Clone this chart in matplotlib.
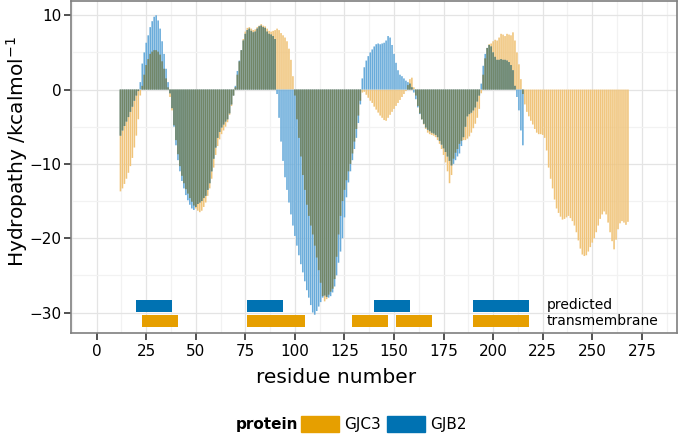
import numpy as np
import matplotlib.pyplot as plt
from matplotlib.patches import Patch

# hydropathy per residue
gjc3_first = 12
gjc3 = [
    -13.7, -13.3, -12.7, -12.0, -11.2, -10.3, -9.2, -7.8, -6.2, -4.0,
    -0.8, 0.5, 2.0, 3.3, 4.1, 4.8, 5.1, 5.3, 5.3, 5.1,
    4.7, 3.8, 2.8, 1.5, 0.3, -1.0, -2.8, -4.8, -6.8, -8.7,
    -10.3, -11.6, -12.6, -13.4, -14.0, -14.6, -15.1, -15.6, -16.0, -16.3,
    -16.5, -16.3, -15.8, -15.2, -14.3, -13.3, -12.0, -10.5, -8.8, -7.6,
    -6.7, -6.0, -5.5, -5.0, -4.4, -3.4, -2.2, -0.8, 0.3, 2.0,
    3.8, 5.3, 6.8, 7.8, 8.3, 8.4, 8.2, 8.0, 8.1, 8.4,
    8.6, 8.8, 8.6, 8.5, 8.2, 7.9, 7.8, 7.9, 8.0, 8.2,
    8.0, 7.6, 7.3, 7.0, 6.5, 5.5, 4.0, 1.8, -0.8, -4.0,
    -6.5, -9.0, -11.5, -13.5, -15.5, -17.0, -18.3, -19.5, -21.0, -22.6,
    -24.3, -26.0, -27.8, -28.5, -28.2, -27.6, -27.2, -26.8, -25.5, -22.5,
    -19.5, -17.0, -15.0, -13.5, -12.2, -11.0, -10.0, -8.6, -7.0, -5.3,
    -3.5, -1.5, -0.4, -0.3, -0.7, -1.1, -1.5, -1.8, -2.3, -2.7,
    -3.1, -3.5, -3.8, -4.1, -4.2, -3.8, -3.4, -3.0, -2.6, -2.2,
    -1.8, -1.4, -1.0, -0.6, -0.2, 0.6, 1.4, 1.6, 0.3, -0.8,
    -2.2, -3.2, -4.0, -4.7, -5.3, -5.8, -6.0, -6.1, -6.2, -6.4,
    -6.8, -7.3, -8.0, -8.8, -9.8, -11.0, -12.6, -11.5, -9.3, -8.5,
    -8.0, -7.3, -6.9, -6.8, -6.8, -6.6, -6.3, -5.8, -5.2, -4.6,
    -3.8, -2.6, -0.5, 2.0, 4.2, 5.6, 6.1, 6.2, 6.5, 6.7,
    6.6, 7.0, 7.5, 7.4, 7.2, 7.5, 7.4, 7.3, 7.7, 6.6,
    5.0, 3.4, 1.4, -0.6, -2.0, -3.0, -3.6, -4.2, -4.7, -5.3,
    -5.8, -6.0, -6.0, -6.1, -6.5, -8.2, -10.5, -12.0, -13.3, -14.8,
    -16.0, -16.6, -17.1, -17.5, -17.4, -17.2, -17.0, -17.3, -17.7, -18.3,
    -19.2, -20.3, -21.4, -22.2, -22.4, -22.3, -21.8, -21.2, -20.6, -20.0,
    -19.2, -18.3, -17.4, -16.8, -16.4, -16.8, -17.9, -19.2, -20.4, -21.5,
    -20.2, -18.8, -18.0, -17.7, -17.9, -18.2, -17.8,
]

gjb2_first = 12
gjb2 = [
    -6.2, -5.5, -4.9, -4.3, -3.7, -3.0, -2.3, -1.5, -0.8, -0.2,
    1.0, 3.5, 5.0, 6.3, 7.3, 8.4, 9.2, 9.8, 10.0, 9.3,
    8.2, 6.5, 4.8, 2.8, 1.0, -0.5, -2.5, -5.0, -7.5, -9.5,
    -11.0, -12.3, -13.3, -14.2, -14.9, -15.5, -16.0, -16.2, -15.8, -15.4,
    -15.2, -15.0, -14.6, -14.3, -13.5, -12.6, -11.0, -9.3, -7.8, -6.5,
    -5.7, -5.1, -4.7, -4.3, -4.0, -3.2, -2.0, -0.8, 0.5, 2.5,
    3.9, 5.3, 6.6, 7.5, 8.0, 8.2, 7.9, 7.7, 7.8, 8.2,
    8.5, 8.6, 8.4, 8.3, 7.8, 7.5, 7.4, 7.2, 6.8, -0.6,
    -3.8, -7.0, -9.6, -11.8, -13.5, -15.2, -16.8, -18.3, -19.7, -21.0,
    -22.3, -23.5, -24.6, -25.8, -27.0, -28.0, -29.0, -30.0, -30.3, -29.8,
    -29.2, -28.6, -28.0, -27.7, -27.9, -28.0, -27.8, -27.3, -26.5, -25.0,
    -23.3, -21.8, -20.0, -17.2, -14.5, -12.5, -11.0, -9.5, -8.0, -6.5,
    -4.5, -2.0, 1.5, 3.0, 3.9, 4.5, 5.0, 5.4, 5.8, 6.1,
    6.2, 6.1, 6.2, 6.3, 6.6, 7.2, 7.0, 6.0, 4.8, 3.6,
    2.6, 2.0, 1.8, 1.5, 1.2, 1.0, 0.8, 0.3, -0.4, -1.3,
    -2.4, -3.3, -4.0, -4.6, -5.1, -5.4, -5.6, -5.8, -5.9, -6.1,
    -6.4, -6.9, -7.4, -7.9, -8.4, -9.0, -9.6, -10.2, -10.0, -9.5,
    -9.0, -8.6, -7.6, -6.4, -5.0, -3.6, -3.3, -3.1, -2.8, -2.4,
    -1.6, -0.8, 0.8, 3.2, 4.8, 5.6, 6.0, 5.8, 5.0, 4.4,
    4.0, 4.0, 4.1, 4.0, 4.0, 3.9, 3.7, 3.3, 2.6, 0.5,
    -1.0, -2.8, -5.5, -7.5,
]

# predicted transmembrane segments (first, last residue)
gjc3_tm = [(23, 41), (76, 105), (129, 147), (151, 169), (190, 218)]
gjb2_tm = [(20, 38), (76, 94), (140, 158), (190, 218)]

proteins = ['GJC3', 'GJB2']
key_colors = ['#E69F00', '#0072B2']

tan = '#F0C47A'
light_blue = '#68ABDA'
olive = '#728667'

plt.rcParams['font.family'] = 'DejaVu Sans'

fig = plt.figure(figsize=(6.78, 4.34), dpi=100)
ax = fig.add_axes([0.1043, 0.232, 0.8935, 0.7654])

x_c = np.arange(gjc3_first, gjc3_first + len(gjc3))
x_b = np.arange(gjb2_first, gjb2_first + len(gjb2))
y_c = np.array(gjc3)
y_b = np.array(gjb2)

# shared part of the two profiles (same sign) is drawn darker on top
lo = max(x_c[0], x_b[0])
hi = min(x_c[-1], x_b[-1])
x_o = np.arange(lo, hi + 1)
c_o = y_c[x_o - gjc3_first]
b_o = y_b[x_o - gjb2_first]
same = np.sign(c_o) == np.sign(b_o)
y_o = np.where(same, np.sign(c_o) * np.minimum(np.abs(c_o), np.abs(b_o)), 0)

w = 0.8
ax.bar(x_c, y_c, width=w, color=tan, linewidth=0, snap=False, zorder=2)
ax.bar(x_b, y_b, width=w, color=light_blue, linewidth=0, snap=False, zorder=3)
ax.bar(x_o, y_o, width=w, color=olive, linewidth=0, snap=False, zorder=4)

# transmembrane bars
ax.barh(-29.1, [e - s for s, e in gjb2_tm], left=[s for s, e in gjb2_tm],
        height=1.65, color=key_colors[1], zorder=5)
ax.barh(-31.15, [e - s for s, e in gjc3_tm], left=[s for s, e in gjc3_tm],
        height=1.65, color=key_colors[0], zorder=5)
ax.text(227, -29.0, 'predicted', va='center', ha='left', fontsize=10, zorder=6)
ax.text(227, -31.1, 'transmembrane', va='center', ha='left', fontsize=10, zorder=6)

ax.set_xlim(-13.1, 292.5)
ax.set_ylim(-32.8, 11.9)
ax.set_xticks(range(0, 276, 25))
ax.set_xticks(np.arange(-12.5, 290, 25), minor=True)
ax.set_yticks([-30, -20, -10, 0, 10])
ax.set_yticks([-25, -15, -5, 5], minor=True)
ax.grid(which='major', color='#E4E4E4', lw=0.9, zorder=0)
ax.grid(which='minor', color='#F2F2F2', lw=0.9, zorder=0)
ax.set_axisbelow(True)
ax.tick_params(which='minor', length=0)
ax.tick_params(which='major', length=5, width=1.2, color='#333333',
               labelsize=11, labelcolor='black')
ax.tick_params(axis='x', pad=3)
ax.tick_params(axis='y', pad=1.5)
for sp in ax.spines.values():
    sp.set_color('#7F7F7F')
    sp.set_linewidth(1.2)

ax.set_xlabel('residue number', fontsize=14.5)
ax.set_ylabel('Hydropathy /kcalmol$^{-1}$', fontsize=14.5)
ax.xaxis.set_label_coords(0.438, -0.105)
ax.yaxis.set_label_coords(-0.067, 0.546)

fig.text(236 / 678, 1 - 424 / 434, 'protein', fontweight='bold', fontsize=11,
         va='center', ha='left')
handles = [Patch(color=c) for c in key_colors]
fig.legend(handles, proteins, loc='center left',
           bbox_to_anchor=(301 / 678, 1 - 424 / 434), ncol=2, frameon=False,
           fontsize=11, handlelength=2.5, handleheight=1.25,
           handletextpad=0.35, columnspacing=0.35, borderpad=0,
           borderaxespad=0)

fig.savefig('out.png', dpi=100)
